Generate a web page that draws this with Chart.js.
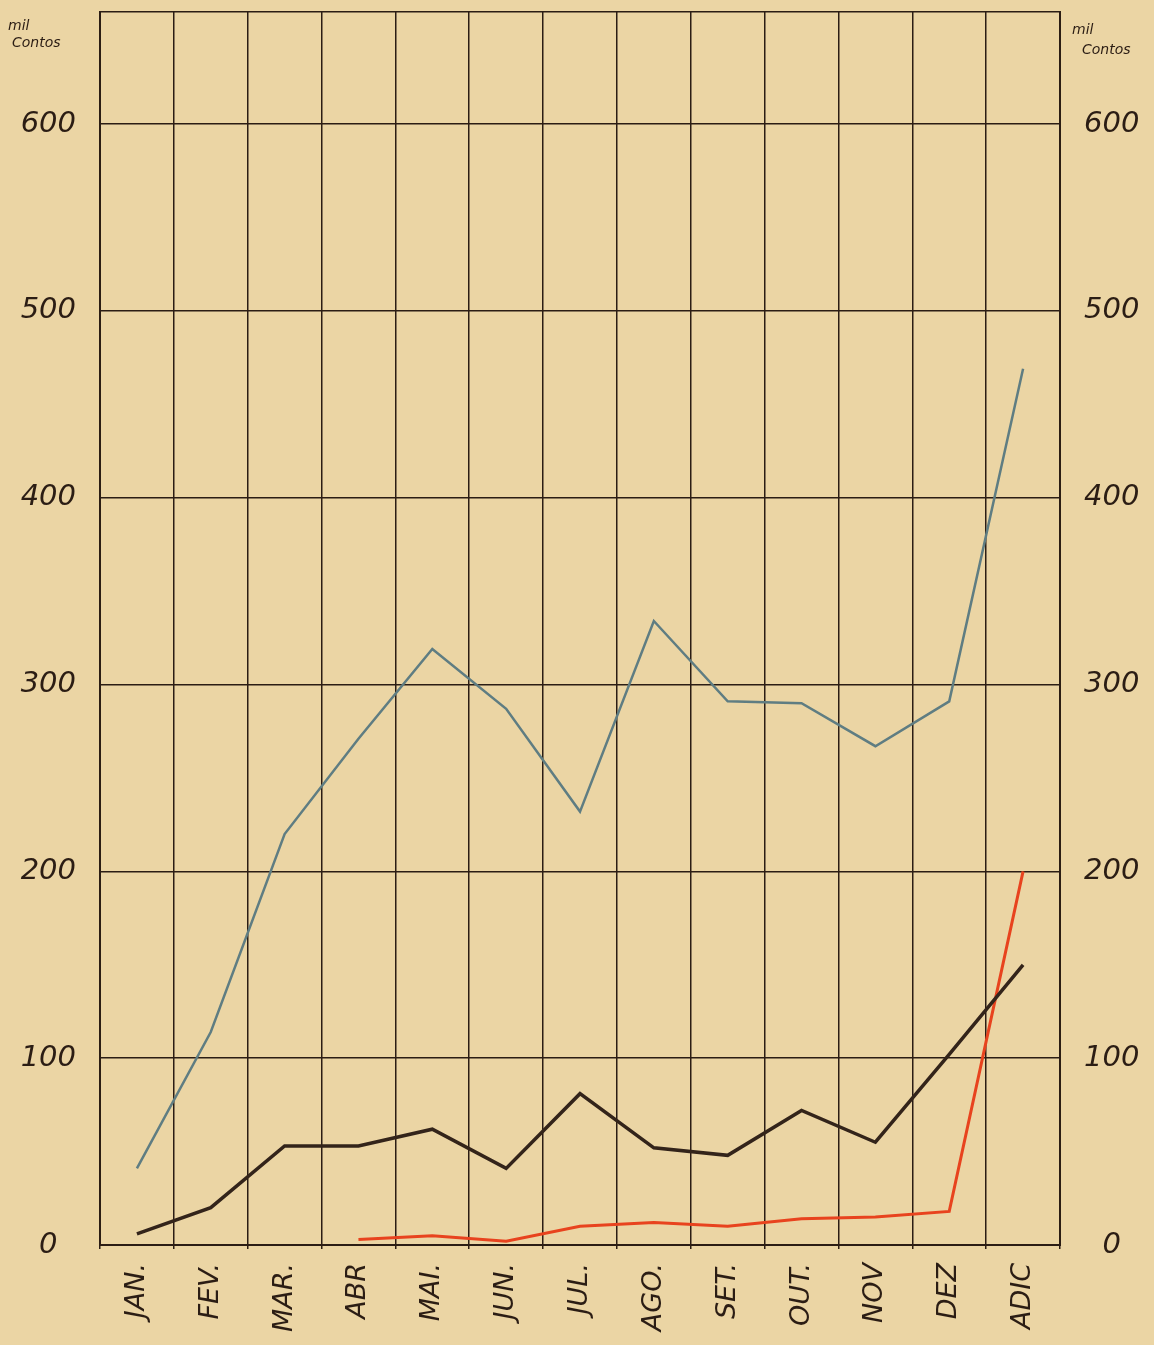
<!DOCTYPE html>
<html>
<head>
<meta charset="utf-8">
<script src="https://cdn.jsdelivr.net/npm/chart.js@4/dist/chart.umd.min.js"></script>
<style>
  body { margin: 0; background: #ebd5a4; }
  #wrap { width: 1154px; height: 1345px; position: relative; }
</style>
</head>
<body>
<div id="wrap"><canvas id="chart"></canvas></div>
<script>
// months (plus "adicional")
const months = ['JAN.', 'FEV.', 'MAR.', 'ABR', 'MAI.', 'JUN.', 'JUL.', 'AGO.', 'SET.', 'OUT.', 'NOV', 'DEZ', 'ADIC'];

// mil contos
const blueLine = [41, 114, 220, 271, 319, 287, 232, 334, 291, 290, 267, 291, 469];
const blackLine = [6, 20, 53, 53, 62, 41, 81, 52, 48, 72, 55, 102, 150];
const redLine = [null, null, null, 3, 5, 2, 10, 12, 10, 14, 15, 18, 200];

const yTicks = [0, 100, 200, 300, 400, 500, 600];
const unitLines = ['mil', 'Contos'];

const ink = '#2b1d14';

// "mil contos" note in both top corners
const unitNote = {
  id: 'unitNote',
  afterDraw(chart) {
    const ctx = chart.ctx;
    const area = chart.chartArea;
    ctx.save();
    ctx.fillStyle = ink;
    ctx.font = 'italic 14px "DejaVu Sans"';
    ctx.textAlign = 'left';
    ctx.fillText(unitLines[0], 8, area.top + 18);
    ctx.fillText(unitLines[1], 12, area.top + 35);
    ctx.fillText(unitLines[0], area.right + 12, area.top + 22);
    ctx.fillText(unitLines[1], area.right + 22, area.top + 42);
    ctx.restore();
  }
};

const tickLabel = (v) => yTicks.includes(v) ? String(v) : '';

// keep the frame close to the top edge like the drawing
const fitY = (w) => (scale) => {
  scale.width = w;
  scale.paddingTop = 0;
  scale.paddingBottom = 0;
};

new Chart(document.getElementById('chart').getContext('2d'), {
  type: 'line',
  data: {
    labels: months,
    datasets: [{
      label: 'azul',
      data: blueLine,
      borderColor: '#5f7d82',
      borderWidth: 2.5,
      pointRadius: 0,
      tension: 0
    }, {
      label: 'preto',
      data: blackLine,
      borderColor: '#33241a',
      borderWidth: 3.5,
      pointRadius: 0,
      tension: 0
    }, {
      label: 'vermelho',
      data: redLine,
      borderColor: '#e8431e',
      borderWidth: 3,
      pointRadius: 0,
      tension: 0
    }]
  },
  options: {
    responsive: true,
    maintainAspectRatio: false,
    animation: false,
    layout: {
      padding: { top: 12, left: 0, right: 0, bottom: 0 }
    },
    plugins: {
      legend: { display: false },
      tooltip: { enabled: false }
    },
    scales: {
      x: {
        offset: true,
        grid: {
          offset: true,
          color: ink,
          lineWidth: 1.5,
          tickLength: 4
        },
        border: { color: ink, width: 2 },
        ticks: {
          minRotation: 90,
          maxRotation: 90,
          padding: 14,
          color: ink,
          font: { family: 'DejaVu Sans', style: 'italic', size: 27 }
        },
        afterFit: (scale) => { scale.height = 100; }
      },
      y: {
        min: 0,
        max: 660,
        position: 'left',
        grid: {
          color: ink,
          lineWidth: 1.5,
          drawTicks: false
        },
        border: { color: ink, width: 2 },
        ticks: {
          stepSize: 100,
          callback: tickLabel,
          crossAlign: 'center',
          padding: 24,
          color: ink,
          font: { family: 'DejaVu Sans', style: 'italic', size: 29 }
        },
        afterFit: fitY(100)
      },
      y2: {
        min: 0,
        max: 660,
        position: 'right',
        grid: { display: false, drawTicks: false },
        border: { color: ink, width: 2 },
        ticks: {
          stepSize: 100,
          callback: tickLabel,
          crossAlign: 'center',
          padding: 24,
          color: ink,
          font: { family: 'DejaVu Sans', style: 'italic', size: 29 }
        },
        afterFit: fitY(94)
      }
    }
  },
  plugins: [unitNote]
});
</script>
</body>
</html>
